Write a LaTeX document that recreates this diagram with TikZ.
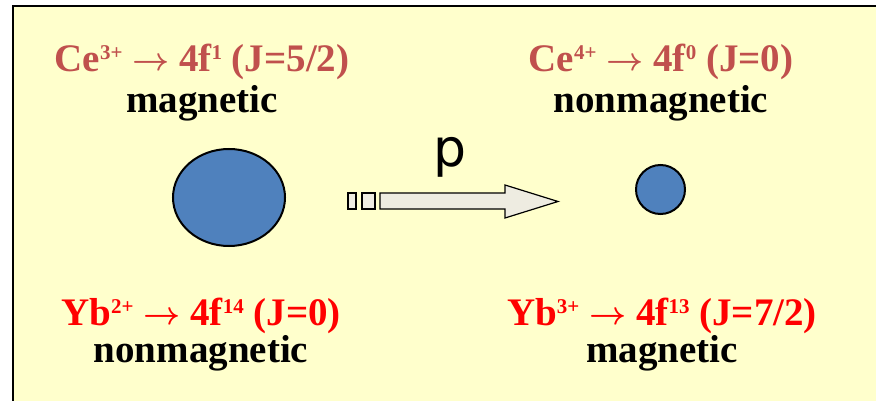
\documentclass[tikz,border=0pt]{standalone}
\usepackage{fontspec}
\setmainfont{Liberation Serif}
\newfontfamily\psans{DejaVu Sans}
\usetikzlibrary{positioning,shapes.geometric}
\usepackage{xcolor}
\definecolor{slidebg}{HTML}{FFFFCC}
\definecolor{cered}{HTML}{C0504D}
\definecolor{ybred}{HTML}{FF0000}
\definecolor{ionblue}{HTML}{4F81BD}
\definecolor{pushgray}{HTML}{EEECE1}
\newcommand{\ionsup}[1]{\raisebox{12pt}{\fontsize{21}{21}\selectfont #1}}
\newcommand{\toarrow}{\raisebox{1pt}{\scalebox{1.3}{\fontsize{24}{24}\selectfont\boldmath$\rightarrow$}}}

\begin{document}
\begin{tikzpicture}[x=1pt, y=-1pt, every node/.style={inner sep=0pt, font=\bfseries\fontsize{39}{42}\selectfont},
    celine/.style={text=cered, anchor=base},
    ybline/.style={text=ybred, anchor=base},
    magline/.style={text=black, anchor=base},
    ion/.style={draw=black, line width=2pt, fill=ionblue}]
            \useasboundingbox (0,0) rectangle (876,401);
            \fill[slidebg] (13,6) rectangle (876,401);
            \draw[line width=2.5pt] (13,401) -- (13,6) -- (876,6);
            % ions
            \node[ion, ellipse, minimum width=112pt, minimum height=97pt] (bigion) at (229,197.5) {};
            \node[ion, circle, minimum size=49pt] (smallion) at (660.5,189.5) {};
            % left column
            \node[celine] (ce3) at (202,71.7) {Ce\ionsup{3+} \toarrow{} 4f\ionsup{1} (J=5/2)};
            \node[magline, below=41.3pt of ce3.base, anchor=base] (mag1) {magnetic};
            \node[ybline] (yb2) at (201,325) {Yb\ionsup{2+} \toarrow{} 4f\ionsup{14} (J=0)};
            \node[magline, below=37pt of yb2.base, anchor=base] (nonmag2) {nonmagnetic};
            % right column
            \node[celine] (ce4) at (661,71.7) {Ce\ionsup{4+} \toarrow{} 4f\ionsup{0} (J=0)};
            \node[magline, below=41.3pt of ce4.base, anchor=base] (nonmag1) {nonmagnetic};
            \node[ybline] (yb3) at (662,325) {Yb\ionsup{3+} \toarrow{} 4f\ionsup{13} (J=7/2)};
            \node[magline, below=37pt of yb3.base, anchor=base] (mag2) {magnetic};
            % pressure arrow
            \draw[fill=pushgray, line width=1.2pt] (348,193) rectangle (356,209);
            \draw[fill=pushgray, line width=1.2pt] (362,193) rectangle (375,209);
            \draw[fill=pushgray, line width=1.2pt] (380,193) -- (505,193) -- (505,185) -- (558,201.5)
                -- (505,218) -- (505,209) -- (380,209) -- cycle;
            \node[font=\psans\fontsize{52}{56}\selectfont, anchor=base] (press) at (450,167) {p};
        \end{tikzpicture}
\end{document}
